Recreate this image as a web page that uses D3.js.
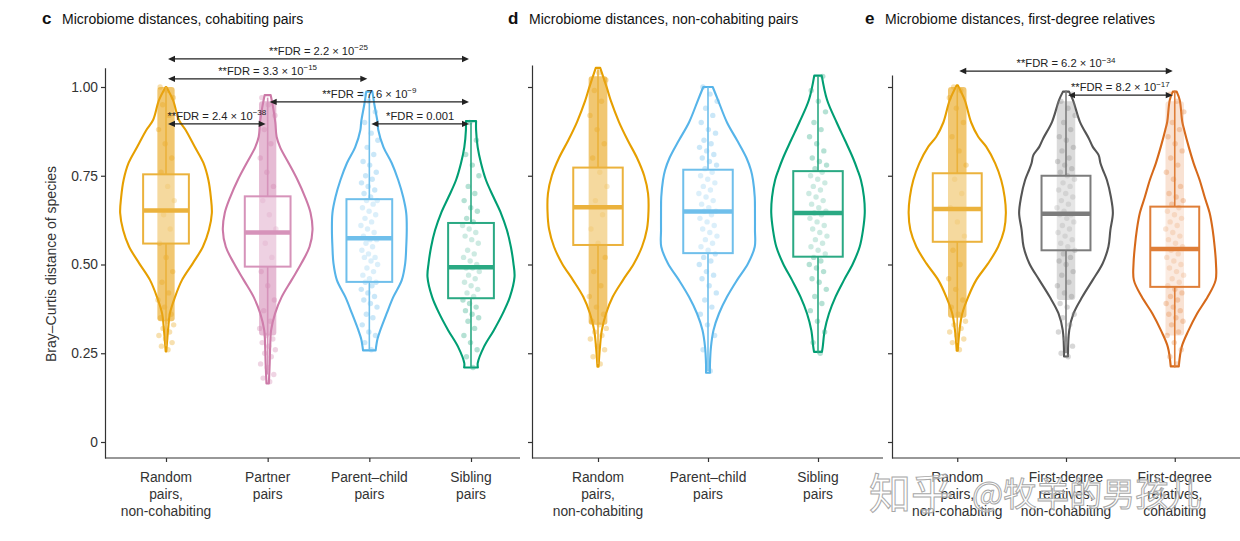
<!DOCTYPE html>
<html>
<head>
<meta charset="utf-8">
<script src="https://cdn.jsdelivr.net/npm/d3@7"></script>
<style>
  html, body { margin: 0; padding: 0; background: #ffffff; }
  svg { display: block; }
</style>
</head>
<body>
<svg id="chart" width="1240" height="541"></svg>
<script>
// ---------------- DATA ----------------
const yTicks = [0, 0.25, 0.5, 0.75, 1.0];
const yTickLabels = ["0", "0.25", "0.50", "0.75", "1.00"];

const cCategories = ["Random pairs, non-cohabiting", "Partner pairs", "Parent–child pairs", "Sibling pairs"];
const cLabels = [["Random", "pairs,", "non-cohabiting"], ["Partner", "pairs"], ["Parent–child", "pairs"], ["Sibling", "pairs"]];
const dCategories = ["Random pairs, non-cohabiting", "Parent–child pairs", "Sibling pairs"];
const dLabels = [["Random", "pairs,", "non-cohabiting"], ["Parent–child", "pairs"], ["Sibling", "pairs"]];
const eCategories = ["Random pairs, non-cohabiting", "First-degree relatives, non-cohabiting", "First-degree relatives, cohabiting"];
const eLabels = [["Random", "pairs,", "non-cohabiting"], ["First-degree", "relatives,", "non-cohabiting"], ["First-degree", "relatives,", "cohabiting"]];

// axis limits (data units) per panel
const cYLimits = [-0.045, 1.054];
const dYLimits = [-0.045, 1.062];
const eYLimits = [-0.045, 1.034];

// violin profiles: [value, half-width as fraction of category step]
const cRandomViolin = [[0.255,0.003],[0.315,0.020],[0.363,0.039],[0.408,0.088],[0.456,0.157],[0.504,0.265],[0.55,0.363],[0.597,0.422],[0.645,0.451],[0.69,0.441],[0.738,0.417],[0.786,0.368],[0.831,0.284],[0.879,0.193],[0.907,0.127],[0.963,0.069],[1.0,0.003]];
const cPartnerViolin = [[0.165,0.012],[0.222,0.02],[0.27,0.025],[0.315,0.034],[0.363,0.074],[0.408,0.137],[0.456,0.235],[0.504,0.333],[0.55,0.412],[0.597,0.441],[0.645,0.422],[0.69,0.368],[0.738,0.294],[0.786,0.206],[0.83,0.123],[0.86,0.088],[0.90,0.075],[0.94,0.055],[0.977,0.03]];
const cParentViolin = [[0.258,0.062],[0.29,0.08],[0.315,0.108],[0.363,0.172],[0.408,0.235],[0.456,0.319],[0.504,0.353],[0.55,0.363],[0.597,0.368],[0.645,0.363],[0.69,0.333],[0.738,0.284],[0.786,0.22],[0.83,0.14],[0.879,0.088],[0.902,0.08],[0.95,0.05],[0.987,0.03]];
const cSiblingViolin = [[0.21,0.068],[0.222,0.066],[0.268,0.127],[0.315,0.225],[0.363,0.314],[0.408,0.382],[0.465,0.428],[0.504,0.417],[0.55,0.392],[0.597,0.353],[0.645,0.294],[0.69,0.221],[0.738,0.147],[0.786,0.098],[0.83,0.066],[0.879,0.05],[0.904,0.05]];

const dRandomViolin = [[0.212,0.005],[0.268,0.018],[0.315,0.035],[0.362,0.073],[0.409,0.134],[0.456,0.227],[0.503,0.327],[0.55,0.40],[0.60,0.445],[0.65,0.459],[0.70,0.455],[0.75,0.42],[0.80,0.355],[0.85,0.27],[0.902,0.19],[0.96,0.118],[0.996,0.082],[1.054,0.02]];
const dParentViolin = [[0.195,0.018],[0.22,0.018],[0.268,0.027],[0.315,0.05],[0.362,0.10],[0.409,0.173],[0.456,0.264],[0.503,0.364],[0.55,0.425],[0.597,0.427],[0.645,0.427],[0.69,0.425],[0.738,0.409],[0.766,0.39],[0.80,0.35],[0.85,0.264],[0.90,0.173],[0.964,0.09],[1.0,0.043]];
const dSiblingViolin = [[0.254,0.036],[0.268,0.043],[0.315,0.061],[0.362,0.10],[0.409,0.159],[0.456,0.236],[0.503,0.318],[0.55,0.379],[0.597,0.409],[0.645,0.425],[0.69,0.418],[0.738,0.39],[0.766,0.36],[0.80,0.318],[0.85,0.245],[0.90,0.17],[0.964,0.082],[1.032,0.034]];

const eRandomViolin = [[0.257,0.005],[0.315,0.021],[0.362,0.046],[0.409,0.101],[0.456,0.174],[0.503,0.284],[0.55,0.376],[0.597,0.431],[0.645,0.447],[0.69,0.436],[0.738,0.404],[0.785,0.349],[0.832,0.266],[0.86,0.193],[0.90,0.128],[0.963,0.069],[1.005,0.005]];
const eFdNonViolin = [[0.241,0.018],[0.315,0.03],[0.362,0.069],[0.409,0.15],[0.456,0.245],[0.503,0.337],[0.55,0.39],[0.597,0.408],[0.645,0.431],[0.69,0.413],[0.738,0.376],[0.766,0.34],[0.785,0.317],[0.808,0.30],[0.832,0.245],[0.855,0.21],[0.902,0.128],[0.963,0.064],[0.987,0.028]];
const eFdCoViolin = [[0.213,0.037],[0.268,0.064],[0.315,0.128],[0.362,0.206],[0.409,0.303],[0.456,0.376],[0.503,0.379],[0.55,0.367],[0.597,0.349],[0.645,0.321],[0.69,0.275],[0.738,0.229],[0.785,0.174],[0.832,0.128],[0.879,0.087],[0.902,0.069],[0.963,0.046],[0.987,0.018]];

// box stats: [whisker low, Q1, median, Q3, whisker high]
const cRandomBox = [0.27, 0.559, 0.652, 0.754, 1.0];
const cPartnerBox = [0.19, 0.494, 0.590, 0.692, 0.97];
const cParentBox = [0.26, 0.451, 0.574, 0.684, 0.98];
const cSiblingBox = [0.21, 0.405, 0.492, 0.617, 0.90];
const dRandomBox = [0.22, 0.555, 0.661, 0.773, 1.05];
const dParentBox = [0.20, 0.532, 0.649, 0.767, 1.0];
const dSiblingBox = [0.25, 0.522, 0.645, 0.763, 1.03];
const eRandomBox = [0.28, 0.564, 0.656, 0.757, 1.0];
const eFdNonBox = [0.25, 0.540, 0.643, 0.750, 0.99];
const eFdCoBox = [0.21, 0.437, 0.544, 0.663, 0.99];

// dense point cores [low, high] (where jittered points merge into a solid strip)
const cRandomCore = [0.34, 1.0];
const cPartnerCore = [0.30, 0.96];
const dRandomCore = [0.33, 1.03];
const eRandomCore = [0.35, 1.0];
const eFdNonCore = [0.40, 0.96];
const eFdCoCore = [0.30, 0.96];

// individual points
const cRandomPts = [0.26,0.27,0.28,0.29,0.30,0.31,0.32,0.33,0.34,0.35,0.36,0.38,0.40,0.42,0.45,0.48,0.52,0.56,0.60,0.64,0.68,0.72,0.76,0.80,0.84,0.88,0.92,0.95,0.97,0.99,1.0];
const cPartnerPts = [0.17,0.18,0.19,0.21,0.22,0.24,0.25,0.26,0.27,0.28,0.29,0.30,0.32,0.34,0.37,0.40,0.44,0.48,0.52,0.56,0.60,0.64,0.68,0.72,0.76,0.80,0.84,0.88,0.92,0.95,0.97];
const cParentPts = [0.26,0.28,0.30,0.31,0.33,0.35,0.36,0.38,0.39,0.40,0.41,0.42,0.43,0.44,0.45,0.45,0.46,0.47,0.48,0.49,0.50,0.51,0.52,0.52,0.53,0.54,0.55,0.56,0.57,0.57,0.58,0.59,0.60,0.61,0.62,0.63,0.64,0.65,0.66,0.67,0.68,0.68,0.69,0.70,0.71,0.72,0.73,0.74,0.75,0.76,0.78,0.79,0.81,0.83,0.85,0.87,0.90,0.93,0.96,0.98];
const cSiblingPts = [0.21,0.24,0.26,0.28,0.30,0.32,0.34,0.35,0.36,0.37,0.38,0.39,0.40,0.41,0.42,0.43,0.44,0.45,0.46,0.47,0.48,0.49,0.49,0.50,0.51,0.52,0.53,0.54,0.56,0.57,0.58,0.59,0.60,0.61,0.62,0.63,0.65,0.66,0.68,0.70,0.72,0.75,0.78,0.81,0.85,0.90];
const dRandomPts = [0.22,0.24,0.26,0.27,0.29,0.30,0.31,0.32,0.33,0.34,0.36,0.38,0.41,0.44,0.48,0.52,0.56,0.60,0.64,0.68,0.72,0.76,0.80,0.84,0.88,0.92,0.96,0.99,1.02,1.04];
const dParentPts = [0.20,0.26,0.30,0.33,0.36,0.38,0.40,0.42,0.44,0.46,0.47,0.48,0.50,0.51,0.52,0.53,0.54,0.55,0.56,0.57,0.58,0.59,0.60,0.61,0.62,0.63,0.64,0.65,0.65,0.66,0.67,0.68,0.69,0.70,0.71,0.72,0.73,0.74,0.75,0.76,0.77,0.78,0.79,0.80,0.81,0.82,0.83,0.84,0.85,0.87,0.88,0.90,0.92,0.94,0.96,0.98,1.00];
const dSiblingPts = [0.25,0.28,0.31,0.34,0.37,0.39,0.41,0.43,0.45,0.46,0.48,0.49,0.50,0.51,0.52,0.53,0.54,0.55,0.56,0.57,0.58,0.59,0.60,0.61,0.62,0.63,0.64,0.645,0.65,0.66,0.67,0.68,0.69,0.70,0.71,0.72,0.73,0.74,0.75,0.76,0.77,0.78,0.79,0.80,0.82,0.84,0.86,0.88,0.90,0.93,0.96,0.99,1.03];
const eRandomPts = [0.26,0.28,0.29,0.30,0.31,0.32,0.33,0.34,0.36,0.38,0.40,0.43,0.46,0.50,0.54,0.58,0.62,0.66,0.70,0.74,0.78,0.82,0.86,0.90,0.94,0.97,0.99,1.0];
const eFdNonPts = [0.24,0.25,0.27,0.29,0.31,0.33,0.35,0.36,0.38,0.39,0.41,0.42,0.44,0.45,0.47,0.48,0.50,0.51,0.52,0.53,0.54,0.55,0.56,0.57,0.58,0.59,0.60,0.61,0.62,0.63,0.64,0.64,0.65,0.66,0.67,0.68,0.69,0.70,0.71,0.72,0.73,0.74,0.75,0.76,0.77,0.78,0.79,0.80,0.82,0.83,0.85,0.86,0.88,0.90,0.92,0.94,0.96,0.98];
const eFdCoPts = [0.22,0.24,0.26,0.28,0.30,0.31,0.33,0.34,0.35,0.36,0.37,0.38,0.39,0.40,0.41,0.42,0.43,0.44,0.45,0.46,0.47,0.48,0.49,0.50,0.51,0.52,0.53,0.54,0.55,0.56,0.57,0.58,0.59,0.60,0.61,0.62,0.63,0.64,0.65,0.66,0.67,0.68,0.69,0.70,0.72,0.74,0.76,0.78,0.80,0.82,0.84,0.86,0.88,0.90,0.93,0.96,0.98];

// significance annotations
const cAnnotations = [
  { from: 0, to: 3, y: 1.079, label: "**FDR = 2.2 × 10", exp: "−25" },
  { from: 0, to: 2, y: 1.023, label: "**FDR = 3.3 × 10", exp: "−15" },
  { from: 1, to: 3, y: 0.958, label: "**FDR = 7.6 × 10", exp: "−9" },
  { from: 0, to: 1, y: 0.896, label: "**FDR = 2.4 × 10", exp: "−38" },
  { from: 2, to: 3, y: 0.896, label: "*FDR = 0.001", exp: "" }
];
const eAnnotations = [
  { from: 0, to: 2, y: 1.045, label: "**FDR = 6.2 × 10", exp: "−34" },
  { from: 1, to: 2, y: 0.977, label: "**FDR = 8.2 × 10", exp: "−17" }
];

// ---------------- STYLE ----------------
const FONT = '"Liberation Sans", Arial, Helvetica, sans-serif';
const styles = {
  random:      { line: "#E69F00", box: "#EBB23C", pt: "#E8A51A", core: 0.62 },
  partner:     { line: "#CC79A7", box: "#D693BA", pt: "#D184B0", core: 0.55 },
  parentChild: { line: "#56B4E9", box: "#6FBFEB", pt: "#66BAEA", core: 0 },
  sibling:     { line: "#009E73", box: "#2AA983", pt: "#2AAA84", core: 0 },
  fdNon:       { line: "#555555", box: "#7C7C7C", pt: "#8C8C8C", core: 0.32 },
  fdCo:        { line: "#D6691A", box: "#DF7E38", pt: "#E68D4E", core: 0.25 }
};

const yBase = d3.scaleLinear().domain([0, 1]).range([442, 87]);
const xAxisY = yBase(-0.045);

const panels = [
  { letter: "c", title: "Microbiome distances, cohabiting pairs", letterX: 42, titleX: 62,
    xRange: [105, 532], axisEnd: 520, yLim: cYLimits, tickLabels: true,
    cats: cCategories, labels: cLabels, annotations: cAnnotations,
    groups: [
      { key: "random", violin: cRandomViolin, box: cRandomBox, pts: cRandomPts, core: cRandomCore },
      { key: "partner", violin: cPartnerViolin, box: cPartnerBox, pts: cPartnerPts, core: cPartnerCore },
      { key: "parentChild", violin: cParentViolin, box: cParentBox, pts: cParentPts, core: null },
      { key: "sibling", violin: cSiblingViolin, box: cSiblingBox, pts: cSiblingPts, core: null }
    ] },
  { letter: "d", title: "Microbiome distances, non-cohabiting pairs", letterX: 508, titleX: 529,
    xRange: [532, 884], axisEnd: 883, yLim: dYLimits, tickLabels: false,
    cats: dCategories, labels: dLabels, annotations: [],
    groups: [
      { key: "random", violin: dRandomViolin, box: dRandomBox, pts: dRandomPts, core: dRandomCore },
      { key: "parentChild", violin: dParentViolin, box: dParentBox, pts: dParentPts, core: null },
      { key: "sibling", violin: dSiblingViolin, box: dSiblingBox, pts: dSiblingPts, core: null }
    ] },
  { letter: "e", title: "Microbiome distances, first-degree relatives", letterX: 865, titleX: 885,
    xRange: [892, 1240], axisEnd: 1240, yLim: eYLimits, tickLabels: false,
    cats: eCategories, labels: eLabels, annotations: eAnnotations,
    groups: [
      { key: "random", violin: eRandomViolin, box: eRandomBox, pts: eRandomPts, core: eRandomCore },
      { key: "fdNon", violin: eFdNonViolin, box: eFdNonBox, pts: eFdNonPts, core: eFdNonCore },
      { key: "fdCo", violin: eFdCoViolin, box: eFdCoBox, pts: eFdCoPts, core: eFdCoCore }
    ] }
];

// ---------------- DRAW ----------------
const svg = d3.select("#chart").style("font-family", FONT);
svg.append("rect").attr("width", 1240).attr("height", 541).attr("fill", "#fff");

const curve = d3.curveCatmullRom.alpha(0.5);
function violinPath(cx, step, profile, y) {
  const right = profile.map(([v, w]) => [cx + w * step, y(v)]);
  const left = profile.slice().reverse().map(([v, w]) => [cx - w * step, y(v)]);
  const r = d3.line().curve(curve)(right);
  const l = d3.line().curve(curve)(left);
  return r + "L" + l.slice(1) + "Z";
}

panels.forEach(p => {
  const g = svg.append("g");
  const y = yBase.copy().domain(p.yLim).range([yBase(p.yLim[0]), yBase(p.yLim[1])]);
  const x = d3.scalePoint().domain(p.cats).range(p.xRange).padding(0.6);
  const step = x.step();

  // titles
  g.append("text").attr("x", p.letterX).attr("y", 24).attr("font-size", 17).attr("font-weight", "bold")
    .attr("fill", "#111").text(p.letter);
  g.append("text").attr("x", p.titleX).attr("y", 24).attr("font-size", 14).attr("fill", "#111").text(p.title);

  // y axis
  const yAxis = d3.axisLeft(y).tickValues(yTicks).tickSize(4).tickSizeOuter(0).tickPadding(3)
    .tickFormat((d, i) => p.tickLabels ? yTickLabels[i] : "");
  const ya = g.append("g").attr("transform", `translate(${p.xRange[0]},0)`).call(yAxis);
  ya.selectAll("path,line").attr("stroke", "#333").attr("stroke-width", 1.2);
  ya.selectAll("text").attr("font-size", 13.8).attr("fill", "#333").attr("font-family", FONT);

  // x axis
  const xAxis = d3.axisBottom(x).tickSize(4).tickSizeOuter(0).tickFormat("");
  const xa = g.append("g").attr("transform", `translate(0,${xAxisY})`).call(xAxis);
  xa.select(".domain").remove();
  xa.selectAll("line").attr("stroke", "#333").attr("stroke-width", 1.2);
  g.append("line").attr("x1", p.xRange[0]).attr("x2", p.axisEnd).attr("y1", xAxisY).attr("y2", xAxisY)
    .attr("stroke", "#333").attr("stroke-width", 1.2);

  // x labels
  p.cats.forEach((c, i) => {
    const t = g.append("text").attr("text-anchor", "middle").attr("font-size", 13.8).attr("fill", "#333");
    p.labels[i].forEach((line, j) => {
      t.append("tspan").attr("x", x(c)).attr("y", 481.5 + j * 17).text(line);
    });
  });

  // groups
  p.groups.forEach((gr, i) => {
    const st = styles[gr.key];
    const cx = x(p.cats[i]);
    const jit = 0.085 * step;
    const bw = 0.225 * step;

    g.append("path").attr("d", violinPath(cx, step, gr.violin, y))
      .attr("fill", "none").attr("stroke", st.line).attr("stroke-width", 2.1).attr("stroke-linejoin", "round");

    if (gr.core) {
      g.append("rect").attr("x", cx - jit).attr("width", 2 * jit)
        .attr("y", y(gr.core[1])).attr("height", y(gr.core[0]) - y(gr.core[1]))
        .attr("rx", 3).attr("fill", st.pt).attr("opacity", st.core);
    }

    g.append("g").selectAll("circle").data(gr.pts).join("circle")
      .attr("cx", (d, k) => cx + ((((k + 1) * 0.6180339887) % 1) - 0.5) * 2 * jit)
      .attr("cy", d => y(d)).attr("r", 2.7)
      .attr("fill", st.pt).attr("opacity", 0.35);

    const [lo, q1, med, q3, hi] = gr.box;
    g.append("line").attr("x1", cx).attr("x2", cx).attr("y1", y(hi)).attr("y2", y(q3))
      .attr("stroke", st.box).attr("stroke-width", 1.6);
    g.append("line").attr("x1", cx).attr("x2", cx).attr("y1", y(q1)).attr("y2", y(lo))
      .attr("stroke", st.box).attr("stroke-width", 1.6);
    g.append("rect").attr("x", cx - bw).attr("width", 2 * bw)
      .attr("y", y(q3)).attr("height", y(q1) - y(q3))
      .attr("fill", "#fff").attr("fill-opacity", 0.32)
      .attr("stroke", st.box).attr("stroke-width", 2);
    g.append("line").attr("x1", cx - bw).attr("x2", cx + bw).attr("y1", y(med)).attr("y2", y(med))
      .attr("stroke", st.box).attr("stroke-width", 4.5);
  });

  // annotations
  p.annotations.forEach(a => {
    const x1 = x(p.cats[a.from]) + 2, x2 = x(p.cats[a.to]) - 2, ay = y(a.y);
    g.append("line").attr("x1", x1 + 3).attr("x2", x2 - 3).attr("y1", ay).attr("y2", ay)
      .attr("stroke", "#222").attr("stroke-width", 1.3);
    g.append("path").attr("d", `M${x1},${ay}L${x1 + 7},${ay - 3.2}L${x1 + 7},${ay + 3.2}Z`).attr("fill", "#222");
    g.append("path").attr("d", `M${x2},${ay}L${x2 - 7},${ay - 3.2}L${x2 - 7},${ay + 3.2}Z`).attr("fill", "#222");
    const t = g.append("text").attr("x", (x1 + x2) / 2).attr("y", ay - 4)
      .attr("text-anchor", "middle").attr("font-size", 11.2).attr("fill", "#222");
    t.append("tspan").text(a.label);
    if (a.exp) t.append("tspan").attr("dy", -4.5).attr("font-size", 8).text(a.exp);
  });
});

// y axis title
svg.append("text").attr("transform", "translate(55.5,264) rotate(-90)")
  .attr("text-anchor", "middle").attr("font-size", 14).attr("fill", "#333")
  .text("Bray–Curtis distance of species");

// watermark
const wm = svg.append("g").attr("font-family", '"Noto Sans CJK SC", sans-serif')
  .attr("fill", "#ffffff").attr("fill-opacity", 0.55).attr("stroke", "#a8a8a8").attr("stroke-width", 1);
wm.append("text").attr("x", 869).attr("y", 509).attr("font-size", 42).text("知乎");
wm.append("text").attr("x", 972).attr("y", 506).attr("font-size", 33).text("@牧羊的男孩儿");
</script>
</body>
</html>
